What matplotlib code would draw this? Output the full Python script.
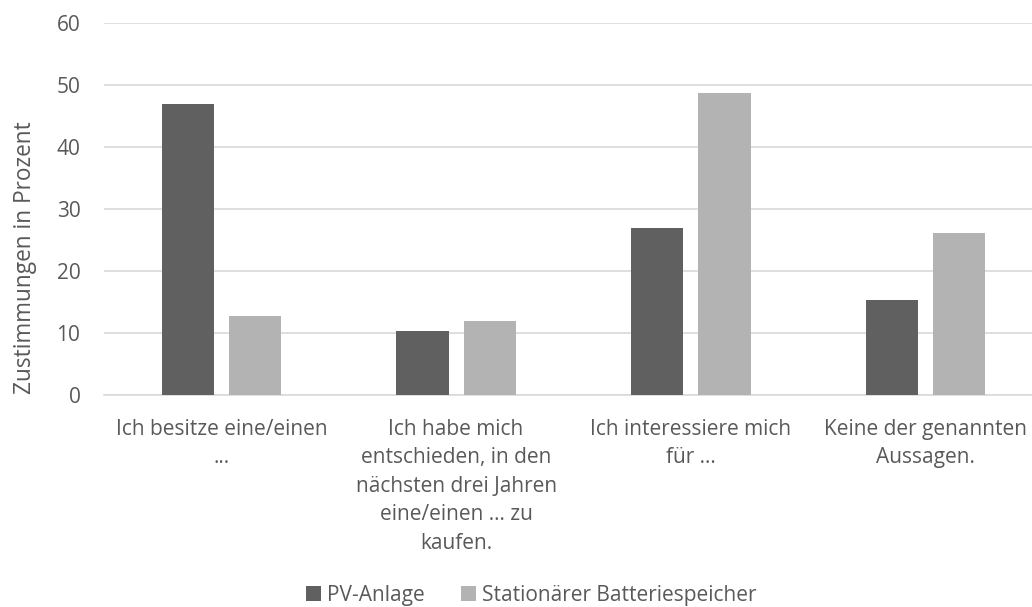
import matplotlib
matplotlib.use("Agg")
import matplotlib.pyplot as plt
import numpy as np

categories = [
    "Ich besitze eine/einen\n...",
    "Ich habe mich\nentschieden, in den\nnächsten drei Jahren\neine/einen ... zu\nkaufen.",
    "Ich interessiere mich\nfür ...",
    "Keine der genannten\nAussagen.",
]
series_names = ["PV-Anlage", "Stationärer Batteriespeicher"]
pv_values = [47.0, 10.4, 26.9, 15.3]
battery_values = [12.7, 12.0, 48.7, 26.2]
y_ticks = [0, 10, 20, 30, 40, 50, 60]

plt.rcParams['font.family'] = ['Open Sans', 'DejaVu Sans']
text_color = "#595959"
fs = 15

fig = plt.figure(figsize=(10.32, 6.07), dpi=100)
ax = fig.add_axes([104 / 1032, 1 - 395 / 607, 939 / 1032, (395 - 23) / 607])

x = np.arange(len(categories))
w = 0.222
gap = 0.064
off = (w + gap) / 2
ax.bar(x - off, pv_values, width=w, color="#606060", label=series_names[0], zorder=3)
ax.bar(x + off, battery_values, width=w, color="#b3b3b3", label=series_names[1], zorder=3)

ax.set_xlim(-0.5, len(categories) - 0.5)
ax.set_ylim(0, 60)
ax.set_yticks(y_ticks)
ax.yaxis.grid(True, color="#d9d9d9", linewidth=1.2, zorder=0)
ax.set_axisbelow(True)
for s in ["top", "right", "left"]:
    ax.spines[s].set_visible(False)
ax.spines["bottom"].set_color("#d9d9d9")
ax.spines["bottom"].set_linewidth(1.2)
ax.tick_params(axis="both", length=0, colors=text_color, labelsize=fs)
ax.tick_params(axis="x", pad=17)
ax.tick_params(axis="y", pad=17)
ax.set_xticks(x)
ax.set_xticklabels(categories, linespacing=1.47)

fig.text(25 / 1032, 1 - 258 / 607, "Zustimmungen in Prozent", rotation=90,
         ha="center", va="center", color=text_color, fontsize=16.3)

leg = fig.legend(loc="center", bbox_to_anchor=(531 / 1032, 1 - 595 / 607), ncol=2, frameon=False,
                 fontsize=fs, handlelength=0.75, handleheight=0.75, handletextpad=0.25,
                 columnspacing=1.75, labelcolor=text_color)

fig.savefig("out.png", dpi=100)
